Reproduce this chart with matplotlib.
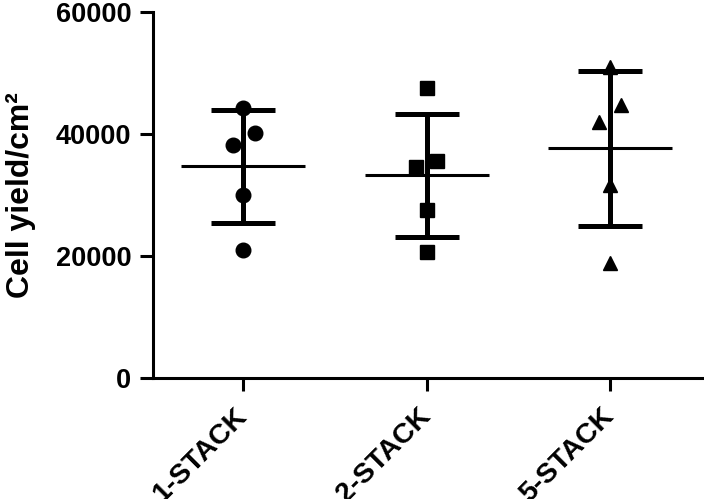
import numpy as np
import matplotlib
matplotlib.use("Agg")
import matplotlib.pyplot as plt

plt.rcParams['font.family'] = ['Liberation Sans', 'DejaVu Sans']

categories = ["1-STACK", "2-STACK", "5-STACK"]
values_1 = [44200, 40100, 38200, 30000, 21000]
values_2 = [47600, 35600, 34600, 27500, 20700]
values_5 = [51000, 44750, 42000, 31600, 18800]
groups = [values_1, values_2, values_5]
markers = ["o", "s", "^"]
jitter = [[0, 0.064, -0.055, 0, 0],
          [0, 0.058, -0.060, 0, 0],
          [0, 0.058, -0.060, 0, 0]]
yticks = [0, 20000, 40000, 60000]

fig = plt.figure(figsize=(7.04, 4.99), dpi=100)
ax = fig.add_axes([0.2173, 0.2425, 0.7827, 0.7335])

for i, (vals, mk, jit) in enumerate(zip(groups, markers, jitter)):
    xc = i + 1
    v = np.array(vals, dtype=float)
    m = v.mean()
    sd = v.std(ddof=1)
    ax.errorbar([xc], [m], yerr=[[sd], [sd]], fmt='none', ecolor='black',
                elinewidth=3.6, capsize=23, capthick=3.6, zorder=2)
    ax.hlines(m, xc - 0.338, xc + 0.338, colors='black', linewidth=2.2, zorder=2)
    ms = 10.5 if mk != 's' else 10
    ax.plot(xc + np.array(jit), v, linestyle='none', marker=mk, color='black',
            markersize=ms, zorder=3)

ax.set_xlim(0.51, 3.51)
ax.set_ylim(0, 60000)
ax.set_yticks(yticks)
ax.set_yticklabels([str(t) for t in yticks], fontsize=19.5, fontweight='bold')
ax.set_xticks([1, 2, 3])
ax.set_xticklabels(categories, fontsize=20.5, fontweight='bold', rotation=45,
                   ha='right', va='center', rotation_mode='anchor')
ax.set_ylabel("Cell yield/cm²", fontsize=23, fontweight='bold', labelpad=14)

for s in ['top', 'right']:
    ax.spines[s].set_visible(False)
for s in ['left', 'bottom']:
    ax.spines[s].set_linewidth(2.2)
ax.tick_params(axis='both', direction='out', length=9.5, width=2.2, color='black')
ax.tick_params(axis='y', pad=6)
ax.tick_params(axis='x', pad=15)

fig.savefig("out.png", dpi=100)
